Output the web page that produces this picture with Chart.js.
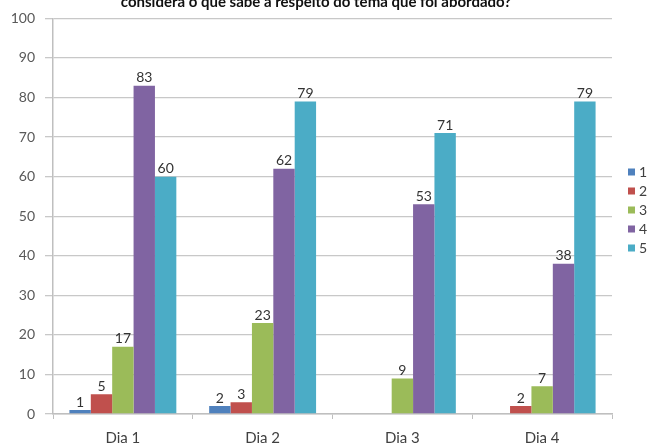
<!DOCTYPE html>
<html>
<head>
<meta charset="utf-8">
<script src="https://cdn.jsdelivr.net/npm/chart.js@4.4.0/dist/chart.umd.min.js"></script>
<style>
  html, body { margin: 0; padding: 0; background: #fff; }
  #wrap { width: 654px; height: 447px; }
</style>
</head>
<body>
<div id="wrap"><canvas id="chart"></canvas></div>
<script>
// Chart data
const titleText = 'considera o que sabe a respeito do tema que foi abordado?';
const categories = ['Dia 1', 'Dia 2', 'Dia 3', 'Dia 4'];
const seriesNames = ['1', '2', '3', '4', '5'];
const series1 = [1, 2, 0, 0];
const series2 = [5, 3, 0, 2];
const series3 = [17, 23, 9, 7];
const series4 = [83, 62, 53, 38];
const series5 = [60, 79, 71, 79];
const yTicks = [0, 10, 20, 30, 40, 50, 60, 70, 80, 90, 100];

const colors = ['#4F81BD', '#C0504D', '#9BBB59', '#8064A2', '#4BACC6'];
const allSeries = [series1, series2, series3, series4, series5];

// Title cut off at the top edge, like the reference
const topTitle = {
    id: 'topTitle',
    afterDraw(chart) {
        const ctx = chart.ctx;
        ctx.save();
        ctx.font = 'bold 15px Lato';
        ctx.fillStyle = '#111';
        ctx.textAlign = 'center';
        ctx.textBaseline = 'alphabetic';
        ctx.fillText(titleText, 316, 7);
        ctx.restore();
    }
};

// Value labels above bars (zeros are left out)
const valueLabels = {
    id: 'valueLabels',
    afterDatasetsDraw(chart) {
        const ctx = chart.ctx;
        ctx.save();
        ctx.font = '14px Lato';
        ctx.fillStyle = '#333';
        ctx.textAlign = 'center';
        ctx.textBaseline = 'bottom';
        chart.data.datasets.forEach((ds, i) => {
            chart.getDatasetMeta(i).data.forEach((bar, j) => {
                if (!ds.data[j]) return;
                ctx.fillText(ds.data[j], bar.x, bar.y - 1);
            });
        });
        ctx.restore();
    }
};

// Legend on the right, drawn by hand to place it like the reference
const sideLegend = {
    id: 'sideLegend',
    afterDraw(chart) {
        const ctx = chart.ctx;
        ctx.save();
        ctx.font = '14px Lato';
        ctx.textBaseline = 'middle';
        ctx.textAlign = 'left';
        chart.data.datasets.forEach((ds, i) => {
            const y = 172 + i * 19;
            ctx.fillStyle = ds.backgroundColor;
            ctx.fillRect(628, y - 3.5, 7, 7);
            ctx.fillStyle = '#404040';
            ctx.fillText(ds.label, 639, y);
        });
        ctx.restore();
    }
};

new Chart(document.getElementById('chart'), {
    type: 'bar',
    data: {
        labels: categories,
        datasets: allSeries.map((d, i) => ({
            label: seriesNames[i],
            data: d,
            backgroundColor: colors[i],
            borderWidth: 0,
            categoryPercentage: 0.765,
            barPercentage: 1.0
        }))
    },
    options: {
        responsive: true,
        maintainAspectRatio: false,
        animation: false,
        layout: { padding: { top: 10, right: 42, bottom: 3, left: 0 } },
        plugins: {
            title: { display: false },
            tooltip: { enabled: false },
            legend: { display: false }
        },
        scales: {
            x: {
                afterFit: s => { s.height = 30; },
                grid: {
                    offset: true,
                    drawOnChartArea: false,
                    drawTicks: true,
                    tickLength: 5,
                    color: '#bfbfbf'
                },
                border: { color: '#bfbfbf', width: 1.5 },
                ticks: {
                    color: '#404040',
                    padding: 10,
                    font: { family: 'Lato', size: 15 }
                }
            },
            y: {
                min: 0,
                max: 100,
                afterBuildTicks: s => { s.ticks = yTicks.map(v => ({ value: v })); },
                afterFit: s => { s.width = 53; },
                grid: {
                    color: '#c8c8c8',
                    lineWidth: 1.3,
                    tickLength: 8
                },
                border: { color: '#bfbfbf', width: 1.5 },
                ticks: {
                    color: '#595959',
                    padding: 10,
                    font: { family: 'Lato', size: 14 }
                }
            }
        }
    },
    plugins: [topTitle, valueLabels, sideLegend]
});
</script>
</body>
</html>
